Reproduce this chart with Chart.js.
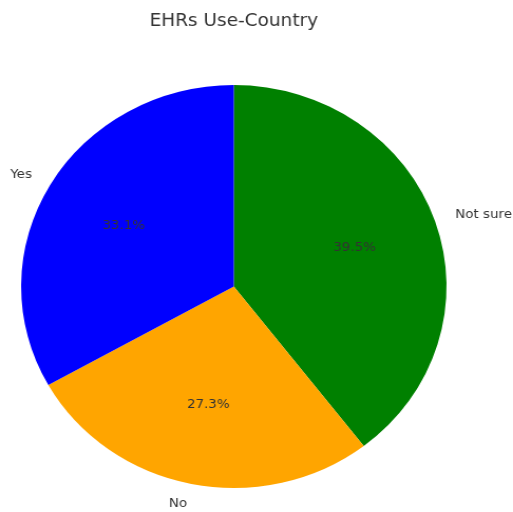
<!DOCTYPE html>
<html>
<head>
<meta charset="utf-8">
<script src="https://cdn.jsdelivr.net/npm/chart.js@4/dist/chart.umd.min.js"></script>
<style>
  html, body { margin: 0; padding: 0; background: #fff; overflow: hidden; }
  #wrap { width: 486px; height: 512px; transform: scaleX(1.0556); transform-origin: 0 0; }
</style>
</head>
<body>
<div id="wrap"><canvas id="ehrChart"></canvas></div>
<script>
// ── EHRs use by country: pie data ─────────────────────────────
const categories = ['Yes', 'No', 'Not sure'];
const shares = [33.1, 27.3, 39.5];
const sliceColors = ['#0000ff', '#ffa500', '#008000'];

// Chart.js sweeps clockwise from the top, so feed the slices reversed
// to get Yes/No/Not sure going counter-clockwise.
const order = categories.map((_, i) => i).reverse();

const FONT = "'DejaVu Sans', sans-serif";

// outside labels at 1.1r, percentages at 0.6r
const sliceLabels = {
    id: 'sliceLabels',
    afterDatasetsDraw(chart) {
        const ctx = chart.ctx;
        const meta = chart.getDatasetMeta(0);
        ctx.save();
        ctx.textBaseline = 'middle';
        meta.data.forEach((arc, i) => {
            const p = arc.getProps(['x', 'y', 'startAngle', 'endAngle', 'outerRadius'], true);
            const mid = (p.startAngle + p.endAngle) / 2;
            const cos = Math.cos(mid), sin = Math.sin(mid);

            ctx.fillStyle = '#333';
            ctx.font = '12.7px ' + FONT;
            ctx.textAlign = cos < 0 ? 'right' : 'left';
            ctx.fillText(chart.data.labels[i],
                p.x + cos * p.outerRadius * 1.1, p.y + sin * p.outerRadius * 1.1);

            ctx.textAlign = 'center';
            const v = chart.data.datasets[0].data[i];
            ctx.fillText(v.toFixed(1) + '%',
                p.x + cos * p.outerRadius * 0.6, p.y + sin * p.outerRadius * 0.6);
        });
        ctx.restore();
    }
};

new Chart(document.getElementById('ehrChart').getContext('2d'), {
    type: 'pie',
    data: {
        labels: order.map(i => categories[i]),
        datasets: [{
            data: order.map(i => shares[i]),
            backgroundColor: order.map(i => sliceColors[i]),
            borderWidth: 0
        }]
    },
    options: {
        responsive: true,
        maintainAspectRatio: false,
        animation: false,
        layout: {
            padding: { left: 20, right: 63, top: 0, bottom: 24 }
        },
        plugins: {
            legend: { display: false },
            tooltip: { enabled: false },
            title: {
                display: true,
                text: 'EHRs Use-Country',
                color: '#333',
                font: { family: FONT, size: 17.5, weight: 'normal' },
                padding: { top: 11, bottom: 53 }
            }
        }
    },
    plugins: [sliceLabels]
});
</script>
</body>
</html>
